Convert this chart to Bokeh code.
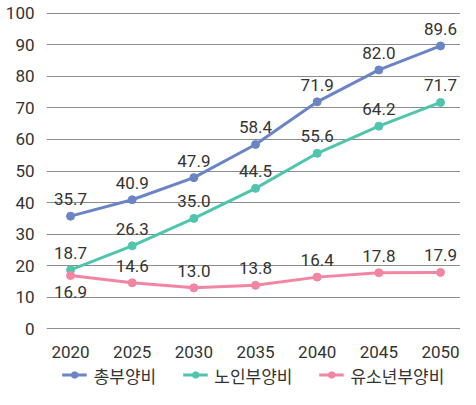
from bokeh.plotting import figure
from bokeh.layouts import column
from bokeh.models import ColumnDataSource, Legend, LegendItem, FixedTicker, Range1d
from bokeh.core.properties import value
from bokeh.embed import file_html
from bokeh.resources import INLINE

years = [2020, 2025, 2030, 2035, 2040, 2045, 2050]
total = [35.7, 40.9, 47.9, 58.4, 71.9, 82.0, 89.6]
elderly = [18.7, 26.3, 35.0, 44.5, 55.6, 64.2, 71.7]
youth = [16.9, 14.6, 13.0, 13.8, 16.4, 17.8, 17.9]
names = ["총부양비", "노인부양비", "유소년부양비"]
colors = ["#6a84c6", "#4fc5ae", "#f285a2"]
y_ticks = [0, 10, 20, 30, 40, 50, 60, 70, 80, 90, 100]

FONT = "Roboto"
TXT = "#333333"

p = figure(width=460, height=360, output_backend="svg", toolbar_location=None,
           x_range=Range1d(2018.05, 2051.62), y_range=Range1d(-0.5, 100.5),
           min_border_left=46, min_border_right=0, min_border_top=11, min_border_bottom=29)
p.outline_line_color = None
p.background_fill_color = "white"
p.xgrid.grid_line_color = None
p.ygrid.grid_line_color = "#8c8c8c"
p.ygrid.grid_line_width = 1.2
p.yaxis.ticker = FixedTicker(ticks=y_ticks)
p.xaxis.ticker = FixedTicker(ticks=years)
for ax in (p.xaxis, p.yaxis):
    ax.axis_line_color = None
    ax.major_tick_line_color = None
    ax.minor_tick_line_color = None
    ax.major_label_text_font = FONT
    ax.major_label_text_font_size = "17px"
    ax.major_label_text_color = TXT
p.yaxis.major_label_standoff = 6
p.xaxis.major_label_standoff = 9

series = [total, elderly, youth]
for vals, col in zip(series, colors):
    src = ColumnDataSource(dict(x=years, y=vals))
    p.line("x", "y", source=src, line_color=col, line_width=3)
    p.scatter("x", "y", source=src, size=8, fill_color=col, line_color=col)

# data labels
for vals, idx in zip(series, range(3)):
    above_x, above_y, above_t, below_x, below_y, below_t = [], [], [], [], [], []
    for x, v in zip(years, vals):
        if idx == 2 and x == 2020:
            below_x.append(x); below_y.append(v); below_t.append("%.1f" % v)
        else:
            above_x.append(x); above_y.append(v); above_t.append("%.1f" % v)
    p.text(x=above_x, y=above_y, text=above_t, text_font=value(FONT), text_font_size="17px",
           text_color=TXT, text_align="center", text_baseline="middle", y_offset=-17)
    if below_x:
        p.text(x=below_x, y=below_y, text=below_t, text_font=value(FONT), text_font_size="17px",
               text_color=TXT, text_align="center", text_baseline="middle", y_offset=16)

# legend strip (series drawn off-range so only legend glyphs show)
p2 = figure(width=460, height=29, output_backend="svg", toolbar_location=None,
            x_range=Range1d(0, 1), y_range=Range1d(0, 1),
            min_border_left=46, min_border_right=0, min_border_top=0, min_border_bottom=0)
p2.axis.visible = False
p2.grid.visible = False
p2.outline_line_color = None
items = []
for vals, name, col in zip(series, names, colors):
    src = ColumnDataSource(dict(x=years, y=vals))
    r1 = p2.line("x", "y", source=src, line_color=col, line_width=3)
    r2 = p2.scatter("x", "y", source=src, size=8, fill_color=col, line_color=col)
    items.append(LegendItem(label=name, renderers=[r1, r2]))
legend = Legend(items=items, orientation="horizontal", location="center",
                label_text_font="Noto Sans CJK KR", label_text_font_size="17px",
                label_text_color=TXT, glyph_width=25, glyph_height=16, label_height=16,
                label_standoff=7, spacing=26,
                padding=0, margin=0, border_line_color=None, background_fill_alpha=0)
p2.add_layout(legend, "center")

layout = column(p, p2, spacing=0)
open("out.html", "w").write(file_html(layout, INLINE))
